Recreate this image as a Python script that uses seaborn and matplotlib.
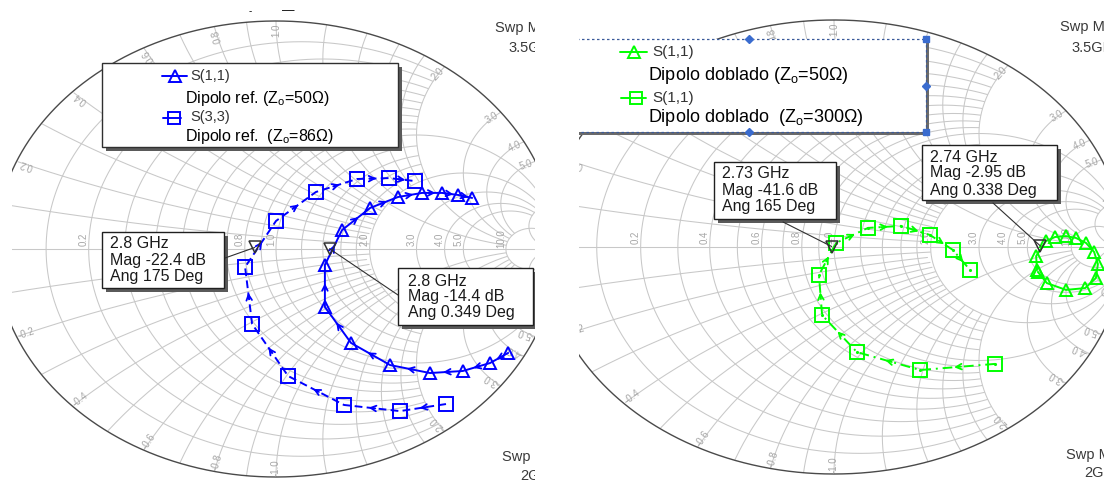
import numpy as np
import pandas as pd
import matplotlib
matplotlib.use("Agg")
import matplotlib.pyplot as plt
import seaborn as sns
from matplotlib.patches import Rectangle

# ---------------- data (reflection coefficient, real / imaginary) ----------------
# left chart: reference dipole
ref50_re = [0.826, 0.762, 0.665, 0.548, 0.406, 0.267, 0.174, 0.174, 0.235, 0.335, 0.434, 0.520, 0.591, 0.648, 0.698]
ref50_im = [-0.456, -0.500, -0.535, -0.544, -0.509, -0.412, -0.254, -0.070, 0.083, 0.180, 0.228, 0.246, 0.246, 0.237, 0.224]
ref86_re = [0.605, 0.441, 0.242, 0.043, -0.085, -0.110, 0.000, 0.142, 0.288, 0.402, 0.495]
ref86_im = [-0.680, -0.711, -0.684, -0.557, -0.329, -0.079, 0.123, 0.250, 0.307, 0.311, 0.298]
# right chart: folded dipole
dob50_re = [0.700, 0.697, 0.731, 0.762, 0.800, 0.834, 0.869, 0.897, 0.910, 0.903, 0.866, 0.800, 0.734, 0.703]
dob50_im = [-0.101, -0.040, 0.026, 0.044, 0.048, 0.040, 0.018, -0.022, -0.075, -0.137, -0.181, -0.189, -0.159, -0.110]
dob300_re = [0.555, 0.297, 0.079, -0.041, -0.052, 0.007, 0.117, 0.231, 0.331, 0.410, 0.469]
dob300_im = [-0.515, -0.542, -0.463, -0.300, -0.123, 0.018, 0.084, 0.093, 0.053, -0.013, -0.101]

# marker read-outs: frequency label, magnitude (dB), angle (deg)
left_marker_freq = ["2.8 GHz", "2.8 GHz"]
left_marker_mag = [-22.4, -14.4]
left_marker_ang = [175, 0.349]
left_marker_ang_txt = ["175", "0.349"]
right_marker_freq = ["2.73 GHz", "2.74 GHz"]
right_marker_mag = [-41.6, -2.95]
right_marker_ang = [165, 0.338]
right_marker_ang_txt = ["165", "0.338"]

# Smith grid values
r_fine = [0.1, 0.2, 0.3, 0.4, 0.5, 0.6, 0.7, 0.8, 0.9, 1.2, 1.4, 1.6, 1.8]
r_major = [1.0, 2.0, 3.0, 4.0, 5.0]
r_outer = [10.0]
x_fine = [0.1, 0.2, 0.3, 0.4, 0.5, 0.6, 0.7, 0.8, 0.9, 1.2, 1.4, 1.6, 1.8]
x_major = [1.0, 2.0, 3.0, 4.0, 5.0]
x_outer = [10.0]
real_labels = [0.2, 0.4, 0.6, 0.8, 1.0, 2.0, 3.0, 4.0, 5.0, 10.0]
outer_labels = [0.2, 0.4, 0.6, 0.8, 1.0, 2.0, 3.0, 4.0, 5.0, 10.0]

# ---------------- style ----------------
sns.set_theme(style="white")
plt.rcParams["font.family"] = ["Liberation Sans", "DejaVu Sans"]
plt.rcParams["mathtext.fontset"] = "custom"
plt.rcParams["mathtext.rm"] = "Liberation Sans"
plt.rcParams["mathtext.it"] = "Liberation Sans:italic"

W, H = 1104, 484
fig = plt.figure(figsize=(W / 100, H / 100), dpi=100)
fig.patch.set_facecolor("white")

BLUE = "#0000FF"
GREEN = "#00FF00"
GRID = "#C8C8C8"
LBL = "#A6A6A6"

left_p = dict(cx=276, cy=249, rx=281, ry=228, x0=12, x1=535, hide=[0.4, 0.6])
right_p = dict(cx=834, cy=247, rx=290, ry=227, x0=579, x1=1104, hide=[])


def P(p, x, y):
    return ((x - p["cx"]) / p["rx"], (p["cy"] - y) / p["ry"])


def make_ax(p):
    return fig.add_axes([p["x0"] / W, 0, (p["x1"] - p["x0"]) / W, 1])


def finish_ax(ax, p):
    ax.set_xlim((p["x0"] - p["cx"]) / p["rx"], (p["x1"] - p["cx"]) / p["rx"])
    ax.set_ylim((p["cy"] - H) / p["ry"], p["cy"] / p["ry"])
    ax.set_axis_off()


def smith_grid(ax, p):
    t = np.linspace(0, 2 * np.pi, 2000)
    with np.errstate(divide="ignore", invalid="ignore"):
        def rcirc(r, xmax):
            g = r / (r + 1) + (1 / (r + 1)) * np.exp(1j * t)
            z = (1 + g) / (1 - g)
            m = np.abs(z.imag) <= xmax
            gg = np.where(m, g, np.nan + 0j)
            ax.plot(gg.real, gg.imag, color=GRID, lw=0.75, zorder=1)

        def xarc(x, rmax):
            for s in (1, -1):
                xs = s * x
                g = 1 + 1j / xs + (1 / x) * np.exp(1j * t)
                z = (1 + g) / (1 - g)
                m = (np.abs(g) <= 1.0005) & (z.real <= rmax)
                gg = np.where(m, g, np.nan + 0j)
                ax.plot(gg.real, gg.imag, color=GRID, lw=0.75, zorder=1)

        for r in r_fine:
            rcirc(r, 2.0)
        for r in r_major:
            rcirc(r, 10.0)
        for r in r_outer:
            rcirc(r, 1e9)
        for x in x_fine:
            xarc(x, 2.0)
        for x in x_major:
            xarc(x, 10.0)
        for x in x_outer:
            xarc(x, 1e9)
    ax.plot([-1, 1], [0, 0], color=GRID, lw=0.75, zorder=1)
    g = np.exp(1j * t)
    ax.plot(g.real, g.imag, color="#4a4a4a", lw=1.0, zorder=2)
    # real axis labels
    for r in real_labels:
        if r in p["hide"]:
            continue  # covered by a read-out box in the reference
        u = (r - 1) / (r + 1)
        ax.text(u - 5 / p["rx"], 10 / p["ry"], f"{r:.1f}", rotation=90, fontsize=7,
                color=LBL, ha="center", va="center", clip_on=True, zorder=2)
    # outer reactance labels
    for x in outer_labels:
        for s in (1, -1):
            gam = (1j * s * x - 1) / (1j * s * x + 1)
            th = np.angle(gam)
            u, v = 0.962 * np.cos(th), 0.958 * np.sin(th)
            ang = np.degrees(np.arctan2(np.sin(th) * p["ry"], np.cos(th) * p["rx"]))
            if s < 0:
                ang += 180
            txt = (f"{x:.1f}" if x < 10 else "10")
            if s < 0:
                txt = "-" + txt
            ax.text(u, v, txt, rotation=ang, fontsize=7, color=LBL, ha="center",
                    va="center", clip_on=True, zorder=2, rotation_mode="anchor")


def trace(ax, re, im, color, marker, ls, ms, arrows=True, dot=False):
    df = pd.DataFrame({"re": re, "im": im})
    sns.lineplot(data=df, x="re", y="im", sort=False, estimator=None, ax=ax,
                 color=color, lw=1.4, zorder=4)
    ln = ax.lines[-1]
    ln.set_linestyle(ls)
    ln.set_marker(marker)
    ln.set_markersize(ms)
    ln.set_markerfacecolor("none")
    ln.set_markeredgecolor(color)
    ln.set_markeredgewidth(1.4)
    if dot:
        ax.plot(re, im, ls="none", marker=".", ms=2.5, color=color, zorder=4)
    if arrows:
        for i in range(len(re) - 1):
            mx, my = (re[i] + re[i + 1]) / 2, (im[i] + im[i + 1]) / 2
            dx, dy = re[i + 1] - re[i], im[i + 1] - im[i]
            n = np.hypot(dx, dy)
            if n < 0.05:
                continue
            e = 0.012 / n
            ax.annotate("", xy=(mx + dx * e, my + dy * e), xytext=(mx - dx * e, my - dy * e),
                        arrowprops=dict(arrowstyle="->", color=color, lw=1.3,
                                        mutation_scale=10, shrinkA=0, shrinkB=0),
                        zorder=4, annotation_clip=True)


def prect(ax, p, x0, y0, x1, y1, **kw):
    u0, v0 = P(p, x0, y1)
    ax.add_patch(Rectangle((u0, v0), (x1 - x0) / p["rx"], (y1 - y0) / p["ry"],
                           clip_on=True, **kw))


def ptext(ax, p, x, y, s, **kw):
    u, v = P(p, x, y)
    kw.setdefault("va", "center")
    kw.setdefault("ha", "left")
    ax.text(u, v, s, clip_on=True, **kw)


def readout_box(ax, p, box, tx, tys, freq, mag, angtxt, anchor, mpos):
    x0, y0, x1, y1 = box
    prect(ax, p, x0 + 4, y0 + 4, x1 + 4, y1 + 4, facecolor="#5a5a5a", edgecolor="none", zorder=6)
    prect(ax, p, x0, y0, x1, y1, facecolor="white", edgecolor="#202020", lw=1.0, zorder=7)
    lines = [freq, f"Mag {mag} dB", f"Ang {angtxt} Deg"]
    for s, ty in zip(lines, tys):
        ptext(ax, p, tx, ty, s, fontsize=11.5, color="#1a1a1a", zorder=8)
    ax.annotate("", xy=mpos, xytext=P(p, *anchor),
                arrowprops=dict(arrowstyle="-", color="#303030", lw=0.8, shrinkA=0, shrinkB=0),
                zorder=6)
    ax.plot([mpos[0]], [mpos[1]], marker="v", ms=9, mfc="none", mec="#303030", mew=1.1,
            ls="none", zorder=6)


def gamma(mag_db, ang_deg):
    m = 10 ** (mag_db / 20)
    return (m * np.cos(np.radians(ang_deg)), m * np.sin(np.radians(ang_deg)))


# ---------------- left chart ----------------
axL = make_ax(left_p)
smith_grid(axL, left_p)
trace(axL, ref50_re, ref50_im, BLUE, "^", "-", 9)
trace(axL, ref86_re, ref86_im, BLUE, "s", (0, (4, 2.2)), 9.5)
p = left_p
# remnants of a cropped title above the chart
ptext(axL, p, 249, 11, "-", fontsize=7, color="black", zorder=8)
ptext(axL, p, 282, 11, "—", fontsize=9, color="black", zorder=8)
# legend
prect(axL, p, 106, 67, 402, 151, facecolor="#5a5a5a", edgecolor="none", zorder=6)
prect(axL, p, 102, 63, 398, 147, facecolor="white", edgecolor="#303030", lw=1.0, zorder=7)
u0, v0 = P(p, 162, 76); u1, _ = P(p, 187, 76)
axL.plot([u0, u1], [v0, v0], color=BLUE, lw=1.4, zorder=8)
axL.plot([(u0 + u1) / 2], [v0], marker="^", ms=8, mfc="none", mec=BLUE, mew=1.4, zorder=8)
ptext(axL, p, 190, 76, "S(1,1)", fontsize=10.5, color="#333333", zorder=8)
ptext(axL, p, 185, 98, r"Dipolo ref. ($\mathregular{Z_o}$=50Ω)", fontsize=11.5, color="black", zorder=8)
u0, v0 = P(p, 163, 118); u1, _ = P(p, 181, 118)
axL.plot([u0, u1], [v0, v0], color=BLUE, lw=1.4, zorder=8)
axL.plot([P(p, 174, 118)[0]], [v0], marker="s", ms=9, mfc="none", mec=BLUE, mew=1.4, zorder=8)
ptext(axL, p, 190, 117, "S(3,3)", fontsize=10.5, color="#333333", zorder=8)
ptext(axL, p, 185, 137, r"Dipolo ref.  ($\mathregular{Z_o}$=86Ω)", fontsize=11.5, color="black", zorder=8)
# marker read-outs
readout_box(axL, p, (102, 232, 224, 288), 110, (244, 260, 277),
            left_marker_freq[0], left_marker_mag[0], left_marker_ang_txt[0], (225, 258),
            gamma(left_marker_mag[0], left_marker_ang[0]))
readout_box(axL, p, (398, 268, 533, 325), 408, (282, 297, 313),
            left_marker_freq[1], left_marker_mag[1], left_marker_ang_txt[1], (398, 295),
            gamma(left_marker_mag[1], left_marker_ang[1]))
# sweep texts
ptext(axL, p, 495, 28, "Swp Max", fontsize=10.5, color="#3a3a3a", zorder=8)
ptext(axL, p, 508, 48, "3.5GHz", fontsize=10.5, color="#3a3a3a", zorder=8)
ptext(axL, p, 502, 457, "Swp Min", fontsize=10.5, color="#3a3a3a", zorder=8)
ptext(axL, p, 520, 476, "2GHz", fontsize=10.5, color="#3a3a3a", zorder=8)
finish_ax(axL, left_p)

# ---------------- right chart ----------------
axR = make_ax(right_p)
smith_grid(axR, right_p)
trace(axR, dob50_re, dob50_im, GREEN, "^", "-", 9, arrows=False)
trace(axR, dob300_re, dob300_im, GREEN, "s", (0, (5, 2.5, 1, 2.5)), 9.5, dot=True)
p = right_p
# legend (selected, dashed frame with handles)
prect(axR, p, 560, 42, 929, 135, facecolor="#6a6a6a", edgecolor="none", zorder=6)
prect(axR, p, 556, 39, 926, 132, facecolor="white", edgecolor="none", zorder=7)
prect(axR, p, 556, 39, 926, 132, facecolor="none", edgecolor="#3a5a9a", lw=0.9,
      ls=(0, (2, 2)), zorder=8)
for (hx, hy, mk) in [(749, 39, "D"), (749, 132, "D"), (926, 86, "D"), (926, 39, "s"), (926, 132, "s")]:
    axR.plot([P(p, hx, hy)[0]], [P(p, hx, hy)[1]], marker=mk, ms=4, color="#3a6ccf", zorder=9,
             clip_on=True)
u0, v0 = P(p, 620, 52); u1, _ = P(p, 647, 52)
axR.plot([u0, u1], [v0, v0], color=GREEN, lw=1.4, zorder=8)
axR.plot([(u0 + u1) / 2], [v0], marker="^", ms=8, mfc="none", mec=GREEN, mew=1.4, zorder=8)
ptext(axR, p, 652, 52, "S(1,1)", fontsize=11, color="#333333", zorder=8)
ptext(axR, p, 648, 75, r"Dipolo doblado ($\mathregular{Z_o}$=50Ω)", fontsize=13, color="black", zorder=8)
u0, v0 = P(p, 621, 98); u1, _ = P(p, 646, 98)
axR.plot([u0, u1], [v0, v0], color=GREEN, lw=1.4, zorder=8)
axR.plot([P(p, 636, 98)[0]], [v0], marker="s", ms=8.5, mfc="none", mec=GREEN, mew=1.4, zorder=8)
ptext(axR, p, 652, 98, "S(1,1)", fontsize=11, color="#333333", zorder=8)
ptext(axR, p, 648, 117, r"Dipolo doblado  ($\mathregular{Z_o}$=300Ω)", fontsize=13, color="black", zorder=8)
# marker read-outs
readout_box(axR, p, (714, 162, 836, 219), 722, (174, 191, 207),
            right_marker_freq[0], right_marker_mag[0], right_marker_ang_txt[0], (783, 222),
            gamma(right_marker_mag[0], right_marker_ang[0]))
readout_box(axR, p, (922, 145, 1057, 200), 930, (157, 173, 190),
            right_marker_freq[1], right_marker_mag[1], right_marker_ang_txt[1], (993, 203),
            gamma(right_marker_mag[1], right_marker_ang[1]))
ptext(axR, p, 1060, 27, "Swp Max", fontsize=10.5, color="#3a3a3a", zorder=8)
ptext(axR, p, 1071, 48, "3.5GHz", fontsize=10.5, color="#3a3a3a", zorder=8)
ptext(axR, p, 1066, 455, "Swp Min", fontsize=10.5, color="#3a3a3a", zorder=8)
ptext(axR, p, 1084, 473, "2GHz", fontsize=10.5, color="#3a3a3a", zorder=8)
finish_ax(axR, right_p)

fig.savefig("out.png", dpi=100, facecolor="white")
